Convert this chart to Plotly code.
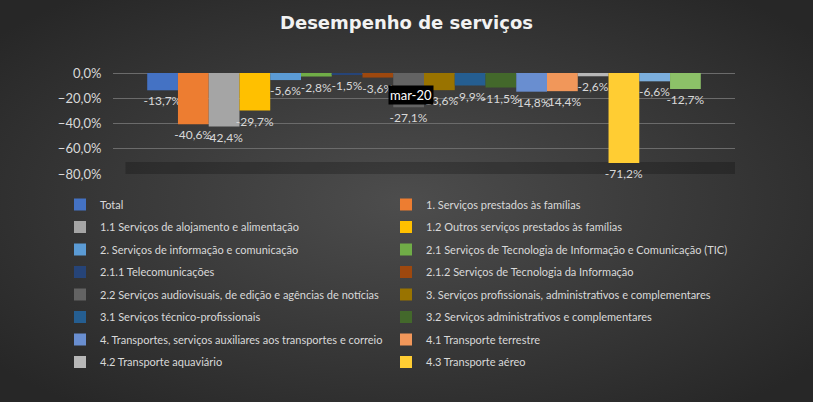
import base64
import plotly.graph_objects as go

# period shown on the category axis
categories = ["mar-20"]

# series names (the last two are cut off in the original legend)
series_names = [
    "Total",
    "1. Serviços prestados às famílias",
    "1.1 Serviços de alojamento e alimentação",
    "1.2 Outros serviços prestados às famílias",
    "2. Serviços de informação e comunicação",
    "2.1 Serviços de Tecnologia de Informação e Comunicação (TIC)",
    "2.1.1 Telecomunicações",
    "2.1.2 Serviços de Tecnologia da Informação",
    "2.2 Serviços audiovisuais, de edição e agências de notícias",
    "3. Serviços profissionais, administrativos e complementares",
    "3.1 Serviços técnico-profissionais",
    "3.2 Serviços administrativos e complementares",
    "4. Transportes, serviços auxiliares aos transportes e correio",
    "4.1 Transporte terrestre",
    "4.2 Transporte aquaviário",
    "4.3 Transporte aéreo",
    "Série 17",
    "Série 18",
]

# variation in percent
values_pct = [-13.7, -40.6, -42.4, -29.7, -5.6, -2.8, -1.5, -3.6, -27.1,
              -13.6, -9.9, -11.5, -14.8, -14.4, -2.6, -71.2, -6.6, -12.7]

shown_in_legend = [True] * 16 + [False] * 2

colors = ["#4472C4", "#ED7D31", "#A5A5A5", "#FFC000", "#5B9BD5", "#70AD47",
          "#264478", "#9E480E", "#636363", "#997300", "#255E91", "#43682B",
          "#698ED0", "#F1975A", "#B7B7B7", "#FFCD33", "#7CAFDD", "#8CC168"]

label_font = "Lato, Roboto, sans-serif"
light = "#d9d9d9"

# plot area in pixels (figure is 813 x 402)
W, H = 813, 402
L, R, T, B = 113, 78, 73, 228
pw, ph = W - L - R, H - T - B

fig = go.Figure()

for i, name in enumerate(series_names):
    fig.add_trace(go.Bar(
        x=categories,
        y=[values_pct[i] / 100],
        name=name,
        marker=dict(color=colors[i], line=dict(width=0)),
        texttemplate="%{y:.1%}",
        textposition="outside",
        textfont=dict(family=label_font, size=12, color=light),
        constraintext="none",
        cliponaxis=False,
        showlegend=shown_in_legend[i],
        legend="legend" if i % 2 == 0 else "legend2",
        legendgroup=name,
    ))

# dark radial background like the Excel chart style
svg = ('<svg xmlns="http://www.w3.org/2000/svg" width="813" height="402">'
       '<defs><radialGradient id="g" cx="50%" cy="50%" r="65%">'
       '<stop offset="0%" stop-color="#4d4d4d"/>'
       '<stop offset="100%" stop-color="#272727"/>'
       '</radialGradient></defs>'
       '<rect width="813" height="402" fill="url(#g)"/></svg>')
bg_src = "data:image/svg+xml;base64," + base64.b64encode(svg.encode()).decode()

fig.add_layout_image(
    source=bg_src,
    xref="paper", yref="paper",
    x=-L / pw, y=1 + T / ph,
    sizex=W / pw, sizey=H / ph,
    xanchor="left", yanchor="top",
    sizing="stretch", layer="below",
)

# dark floor band under the bars
fig.add_shape(
    type="rect", xref="paper", yref="paper",
    x0=0.02, x1=1.0, y0=0, y1=0.12,
    fillcolor="rgba(0,0,0,0.22)", line=dict(width=0), layer="below",
)

# category label in the black box
fig.add_annotation(
    x=categories[0], y=0, xref="x", yref="y",
    text=categories[0], showarrow=False,
    yanchor="top", yshift=-12, xshift=-13,
    bgcolor="#000000", font=dict(family=label_font, size=13, color="#ffffff"),
    borderpad=1,
)

legend_common = dict(
    orientation="v",
    yanchor="top",
    y=-(190 - (T + ph)) / ph,
    xanchor="left",
    bgcolor="rgba(0,0,0,0)",
    font=dict(family=label_font, size=11, color=light),
    tracegroupgap=3.5,
    itemclick=False,
)

fig.update_layout(
    width=W, height=H,
    margin=dict(l=L, r=R, t=T, b=B),
    paper_bgcolor="#333333",
    plot_bgcolor="rgba(0,0,0,0)",
    separators=",.",
    barmode="group",
    bargap=0.11,
    bargroupgap=0,
    title=dict(
        text="<b>Desempenho de serviços</b>",
        x=0.5, xanchor="center",
        y=1 - 23 / H, yref="container", yanchor="middle",
        font=dict(family="DejaVu Sans, sans-serif", size=18, color="#f2f2f2"),
    ),
    legend=dict(x=(60 - L) / pw, **legend_common),
    legend2=dict(x=(386 - L) / pw, **legend_common),
    showlegend=True,
)

fig.update_xaxes(showticklabels=False, showgrid=False, zeroline=False, showline=False)
fig.update_yaxes(
    range=[-0.8, 0],
    dtick=0.2,
    tickformat=".1%",
    tickfont=dict(family=label_font, size=13, color=light),
    gridcolor="#6b6b6b",
    gridwidth=1,
    zeroline=True, zerolinecolor="#6b6b6b", zerolinewidth=1,
    ticks="outside", ticklen=8, tickcolor="rgba(0,0,0,0)",
    showline=False,
)

# page margin off so the chart fills the window
fig.write_html("out.html", config={"displayModeBar": False},
               post_script="document.body.style.margin='0px';"
                           "document.body.style.overflow='hidden';")
